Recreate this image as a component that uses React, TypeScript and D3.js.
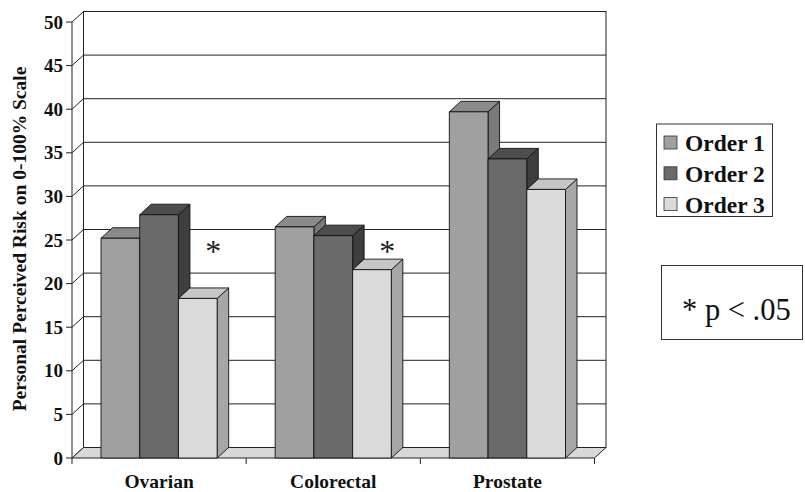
import React from "react";
import * as d3 from "d3";

const categories = ["Ovarian", "Colorectal", "Prostate"];
const seriesNames = ["Order 1", "Order 2", "Order 3"];
const order1 = [25.2, 26.5, 39.7];
const order2 = [27.9, 25.5, 34.3];
const order3 = [18.3, 21.6, 30.8];
const yTicks = [0, 5, 10, 15, 20, 25, 30, 35, 40, 45, 50];
const significant = [true, true, false];
const axisTitle = "Personal Perceived Risk on 0-100% Scale";
const noteText = "* p < .05";

const W = 805;
const H = 492;
const X0 = 72;
const X1 = 594.5;
const Y0 = 458;
const Y50 = 22;
const DX = 11.5;
const DY = -10.5;

const faces = [
  { front: "#a0a0a0", top: "#8a8a8a", side: "#7a7a7a" },
  { front: "#6a6a6a", top: "#4d4d4d", side: "#3e3e3e" },
  { front: "#dadada", top: "#c6c6c6", side: "#a6a6a6" },
];

const serif = "'Liberation Serif', 'Times New Roman', serif";

export default function App() {
  const series = [order1, order2, order3];
  const y = d3.scaleLinear().domain([0, 50]).range([Y0, Y50]);
  const xCat = d3.scaleBand<string>().domain(categories).range([X0, X1]);
  const bw = xCat.bandwidth();
  const xSer = d3
    .scaleBand<string>()
    .domain(seriesNames)
    .range([bw * 0.1665, bw * 0.8335]);
  const barW = xSer.bandwidth();

  const pts = (arr: [number, number][]) => arr.map((p) => p.join(",")).join(" ");

  const bars: React.ReactNode[] = [];
  categories.forEach((c, ci) => {
    seriesNames.forEach((s, si) => {
      const v = series[si][ci];
      const x = (xCat(c) as number) + (xSer(s) as number);
      const yt = y(v);
      const f = faces[si];
      bars.push(
        <g key={c + s} stroke="#111" strokeWidth={0.9} strokeLinejoin="round">
          <polygon
            points={pts([
              [x + barW, yt],
              [x + barW + DX, yt + DY],
              [x + barW + DX, Y0 + DY],
              [x + barW, Y0],
            ])}
            fill={f.side}
          />
          <polygon
            points={pts([
              [x, yt],
              [x + DX, yt + DY],
              [x + barW + DX, yt + DY],
              [x + barW, yt],
            ])}
            fill={f.top}
          />
          <rect x={x} y={yt} width={barW} height={Y0 - yt} fill={f.front} />
        </g>
      );
    });
  });

  return (
    <svg
      width={W}
      height={H}
      style={{ position: "absolute", left: 0, top: 0, background: "#fff" }}
      fontFamily={serif}
    >
      <rect x={0} y={0} width={W} height={H} fill="#fff" />
      {/* back wall */}
      <rect
        x={X0 + DX}
        y={y(50) + DY}
        width={X1 - X0}
        height={y(0) - y(50)}
        fill="#fff"
        stroke="#222"
        strokeWidth={1}
      />
      {/* gridlines + left wall diagonals + ticks */}
      {yTicks.map((t) => (
        <g key={t} stroke="#222" strokeWidth={1}>
          <line x1={X0 + DX} x2={X1 + DX} y1={y(t) + DY} y2={y(t) + DY} />
          <line x1={X0} y1={y(t)} x2={X0 + DX} y2={y(t) + DY} />
          <line x1={X0 - 6} x2={X0} y1={y(t)} y2={y(t)} />
        </g>
      ))}
      {/* front axis line */}
      <line x1={X0} x2={X0} y1={y(50)} y2={y(0)} stroke="#222" strokeWidth={1} />
      {/* floor */}
      <polygon
        points={pts([
          [X0, Y0],
          [X1, Y0],
          [X1 + DX, Y0 + DY],
          [X0 + DX, Y0 + DY],
        ])}
        fill="#d8d8d8"
        stroke="#222"
        strokeWidth={1}
      />
      {/* category ticks */}
      {[...categories.map((c) => xCat(c) as number), X1].map((x, i) => (
        <line key={i} x1={x} x2={x} y1={Y0} y2={Y0 + 6} stroke="#222" strokeWidth={1} />
      ))}
      {bars}
      {/* asterisks */}
      {categories.map((c, ci) =>
        significant[ci] ? (
          <text
            key={c}
            x={(xCat(c) as number) + (xSer(seriesNames[2]) as number) + barW - 4}
            y={262}
            fontSize={32}
            textAnchor="middle"
            fill="#222"
          >
            *
          </text>
        ) : null
      )}
      {/* y tick labels */}
      {yTicks.map((t) => (
        <text
          key={t}
          x={63}
          y={y(t)}
          dy="0.35em"
          textAnchor="end"
          fontSize={19}
          fontWeight="bold"
          fill="#111"
        >
          {t}
        </text>
      ))}
      {/* category labels */}
      {categories.map((c) => (
        <text
          key={c}
          x={(xCat(c) as number) + bw / 2}
          y={488}
          textAnchor="middle"
          fontSize={19.5}
          fontWeight="bold"
          fill="#111"
        >
          {c}
        </text>
      ))}
      {/* axis title */}
      <text
        transform="translate(26,239) rotate(-90)"
        textAnchor="middle"
        fontSize={19.5}
        fontWeight="bold"
        fill="#111"
      >
        {axisTitle}
      </text>
      {/* legend */}
      <rect x={656.5} y={124} width={116} height={92.5} fill="#fff" stroke="#333" strokeWidth={1} />
      {seriesNames.map((s, i) => (
        <g key={s}>
          <rect
            x={664}
            y={136 + i * 30.8}
            width={13}
            height={13}
            fill={faces[i].front}
            stroke="#333"
            strokeWidth={0.8}
          />
          <text
            x={685}
            y={142.5 + i * 30.8}
            dy="0.36em"
            fontSize={23.5}
            fontWeight="bold"
            fill="#111"
          >
            {s}
          </text>
        </g>
      ))}
      {/* note box */}
      <rect x={661.5} y={265.5} width={141} height={74} fill="#fff" stroke="#333" strokeWidth={1} />
      <text x={682} y={320} fontSize={30.5} fill="#111">
        {noteText}
      </text>
    </svg>
  );
}
